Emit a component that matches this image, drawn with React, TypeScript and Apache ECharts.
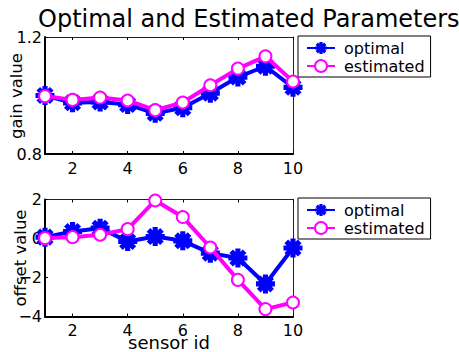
import React, { useEffect, useRef } from "react";
import * as echarts from "echarts";

const sensorIds = [1, 2, 3, 4, 5, 6, 7, 8, 9, 10];
const xTickValues = [2, 4, 6, 8, 10];
const gainOptimal = [1.0, 0.975, 0.978, 0.969, 0.939, 0.958, 1.008, 1.063, 1.1, 1.028];
const gainEstimated = [0.998, 0.985, 0.993, 0.983, 0.95, 0.976, 1.035, 1.092, 1.134, 1.048];
const offsetOptimal = [0.07, 0.36, 0.53, -0.15, 0.1, -0.12, -0.75, -1.0, -2.33, -0.49];
const offsetEstimated = [0.02, 0.07, 0.19, 0.48, 1.95, 1.1, -0.46, -2.12, -3.62, -3.28];
const seriesNames = ["optimal", "estimated"];

const FONT = "DejaVu Sans";
const BLUE = "#0000ff";
const MAGENTA = "#ff00ff";

function starPath(): string {
  const w = 0.27;
  const parts: string[] = [];
  const base = [
    [-w, -1],
    [w, -1],
    [w, 1],
    [-w, 1],
  ];
  for (let k = 0; k < 4; k++) {
    const a = (k * Math.PI) / 4;
    const c = Math.cos(a);
    const s = Math.sin(a);
    const pts = base.map(([x, y]) => [x * c - y * s, x * s + y * c]);
    parts.push(
      "M" + pts.map((p) => p[0].toFixed(3) + " " + p[1].toFixed(3)).join(" L") + " Z"
    );
  }
  return "path://" + parts.join(" ");
}

const STAR = starPath();

function pairs(ys: number[]) {
  return sensorIds.map((x, i) => [x, ys[i]]);
}

export default function App() {
  const ref = useRef<HTMLDivElement>(null);
  useEffect(() => {
    if (!ref.current) return;
    const chart = echarts.init(ref.current, null, { renderer: "svg" });
    const grids = [
      { left: 45, top: 37, width: 248, height: 117 },
      { left: 45, top: 199.5, width: 248, height: 117 },
    ];
    const minus = (v: number) => String(v).replace("-", "\u2212");
    const xAxes: any[] = [];
    const yAxes: any[] = [];
    [0, 1].forEach((g) => {
      xAxes.push({
        type: "value",
        gridIndex: g,
        min: 1,
        max: 10,
        position: "bottom",
        axisLine: { show: true, onZero: false, lineStyle: { color: "#000", width: 2 } },
        axisTick: { show: true, inside: true, length: 3, customValues: xTickValues, lineStyle: { color: "#000" } },
        axisLabel: { show: true, customValues: xTickValues, margin: 6, color: "#000", fontSize: 16, fontFamily: FONT },
        splitLine: { show: false },
      });
      xAxes.push({
        type: "value",
        gridIndex: g,
        min: 1,
        max: 10,
        position: "top",
        axisLine: { show: true, onZero: false, lineStyle: { color: "#222", width: 1 } },
        axisTick: { show: true, inside: true, length: 3, customValues: xTickValues, lineStyle: { color: "#000" } },
        axisLabel: { show: false },
        splitLine: { show: false },
      });
      yAxes.push({
        type: "value",
        gridIndex: g,
        min: g === 0 ? 0.8 : -4,
        max: g === 0 ? 1.2 : 2,
        interval: g === 0 ? 0.4 : 2,
        position: "left",
        axisLine: { show: true, onZero: false, lineStyle: { color: "#000", width: 2 } },
        axisTick: { show: true, inside: true, length: 3, lineStyle: { color: "#000" } },
        axisLabel: { show: true, margin: 3, color: "#000", fontSize: 16, fontFamily: FONT, formatter: (v: number) => minus(v) },
        splitLine: { show: false },
      });
      yAxes.push({
        type: "value",
        gridIndex: g,
        min: g === 0 ? 0.8 : -4,
        max: g === 0 ? 1.2 : 2,
        interval: g === 0 ? 0.4 : 2,
        position: "right",
        axisLine: { show: true, onZero: false, lineStyle: { color: "#222", width: 1 } },
        axisTick: { show: false },
        axisLabel: { show: false },
        splitLine: { show: false },
      });
    });

    const mkSeries = (name: string, data: number[], g: number) => {
      const isOpt = name === "optimal";
      return {
        type: "line",
        name,
        xAxisIndex: g * 2,
        yAxisIndex: g * 2,
        data: pairs(data),
        clip: false,
        symbol: isOpt ? STAR : "emptyCircle",
        symbolSize: isOpt ? 19 : 12,
        showAllSymbol: true,
        lineStyle: { color: isOpt ? BLUE : MAGENTA, width: 4 },
        itemStyle: isOpt
          ? { color: BLUE, borderWidth: 0 }
          : { color: MAGENTA, borderColor: MAGENTA, borderWidth: 3.5 },
        z: isOpt ? 3 : 4,
      };
    };

    const legendBase = (top: number) => ({
      orient: "vertical",
      left: 298,
      top,
      data: seriesNames,
      backgroundColor: "#fff",
      borderColor: "#000",
      borderWidth: 1,
      borderRadius: 0,
      padding: [4, 6, 3, 8],
      itemWidth: 28,
      itemHeight: 15,
      itemGap: 2,
      selectedMode: false,
      textStyle: { color: "#000", fontSize: 16, fontFamily: FONT, padding: [0, 0, 0, 4] },
    });

    chart.setOption({
      animation: false,
      backgroundColor: "#fff",
      textStyle: { fontFamily: FONT },
      title: {
        text: "Optimal and Estimated Parameters",
        left: 33,
        top: 2,
        textStyle: { color: "#000", fontSize: 24, fontWeight: "normal", fontFamily: FONT },
      },
      legend: [legendBase(36), legendBase(198)],
      grid: grids.map((g) => ({ ...g, show: false })),
      xAxis: xAxes,
      yAxis: yAxes,
      series: [
        mkSeries("optimal", gainOptimal, 0),
        mkSeries("estimated", gainEstimated, 0),
        mkSeries("optimal", offsetOptimal, 1),
        mkSeries("estimated", offsetEstimated, 1),
      ],
      graphic: [
        {
          type: "text",
          x: 16,
          y: 96,
          rotation: Math.PI / 2,
          style: { text: "gain value", fontSize: 16.5, fontFamily: FONT, fill: "#000", align: "center", verticalAlign: "middle" },
        },
        {
          type: "text",
          x: 20,
          y: 258,
          rotation: Math.PI / 2,
          style: { text: "offset value", fontSize: 16.5, fontFamily: FONT, fill: "#000", align: "center", verticalAlign: "middle" },
        },
        {
          type: "text",
          x: 169,
          y: 342,
          style: { text: "sensor id", fontSize: 18, fontFamily: FONT, fill: "#000", align: "center", verticalAlign: "middle" },
        },
      ],
    });
    return () => chart.dispose();
  }, []);
  return (
    <div
      ref={ref}
      style={{ position: "fixed", left: 0, top: 0, width: 459, height: 352 }}
    />
  );
}
